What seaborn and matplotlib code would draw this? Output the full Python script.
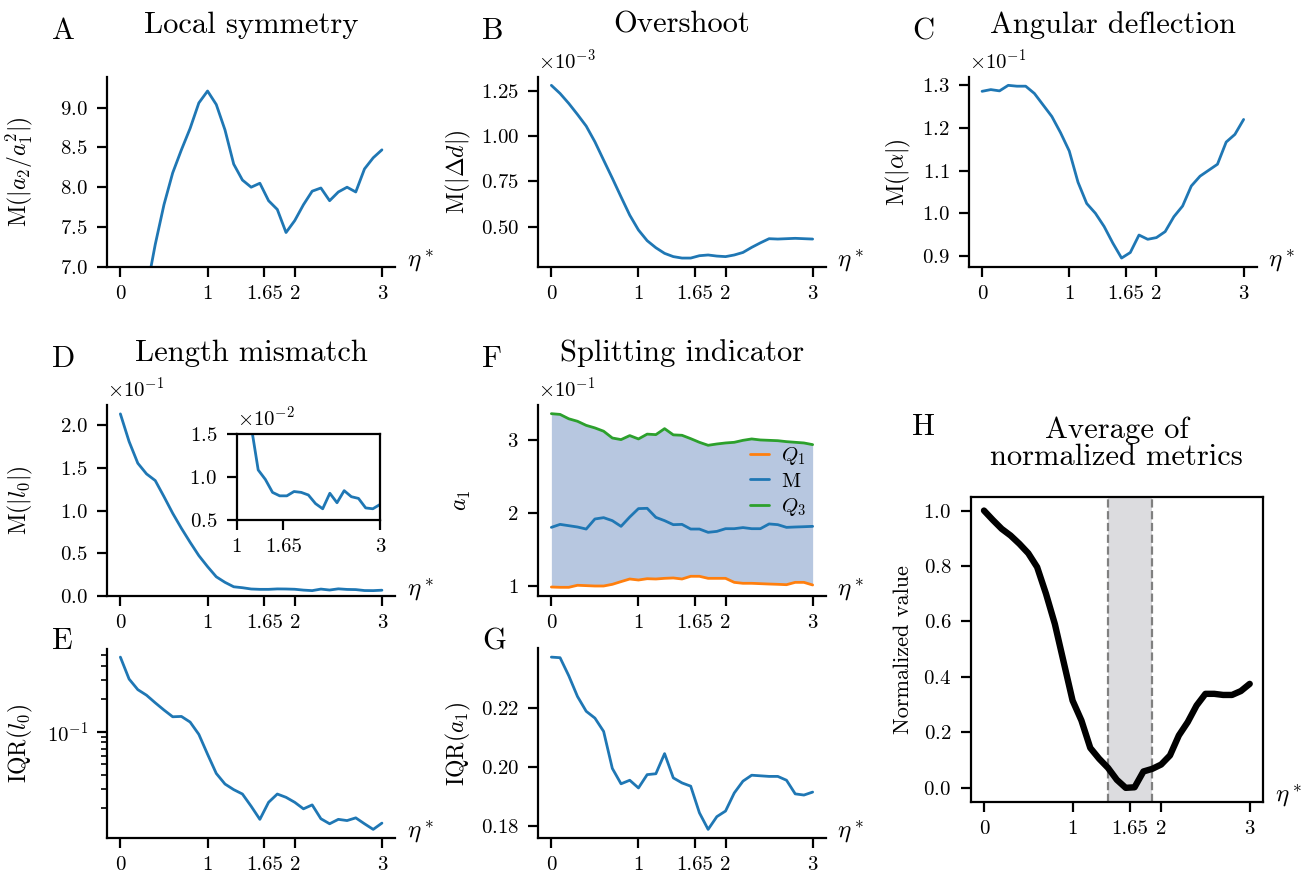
import numpy as np
import pandas as pd
import matplotlib
matplotlib.use("Agg")
import matplotlib.pyplot as plt
import seaborn as sns
from matplotlib.ticker import NullFormatter

# ---------------- data ----------------
eta = [0.0, 0.1, 0.2, 0.3, 0.4, 0.5, 0.6, 0.7, 0.8, 0.9, 1.0,
       1.1, 1.2, 1.3, 1.4, 1.5, 1.6, 1.7, 1.8, 1.9, 2.0,
       2.1, 2.2, 2.3, 2.4, 2.5, 2.6, 2.7, 2.8, 2.9, 3.0]

xtick_vals = [0, 1, 1.65, 2, 3]
xtick_labels = ["0", "1", "1.65", "2", "3"]

# A: local symmetry M(|a2/a1^2|)
sym_M = [5.5, 5.8, 6.2, 6.7, 7.28, 7.78, 8.18, 8.47, 8.74, 9.06, 9.21,
         9.04, 8.72, 8.29, 8.09, 8.00, 8.05, 7.83, 7.72, 7.43, 7.58,
         7.78, 7.95, 7.99, 7.83, 7.94, 8.00, 7.94, 8.23, 8.37, 8.47]

# B: overshoot M(|Δd|)
over_M = [1.281e-3, 1.236e-3, 1.181e-3, 1.120e-3, 1.056e-3, 0.969e-3, 0.868e-3,
          0.768e-3, 0.665e-3, 0.564e-3, 0.482e-3, 0.423e-3, 0.384e-3, 0.353e-3,
          0.335e-3, 0.327e-3, 0.327e-3, 0.340e-3, 0.344e-3, 0.338e-3, 0.335e-3,
          0.344e-3, 0.358e-3, 0.386e-3, 0.411e-3, 0.434e-3, 0.432e-3, 0.434e-3,
          0.436e-3, 0.434e-3, 0.432e-3]

# C: angular deflection M(|alpha|)
ang_M = [0.1286, 0.1290, 0.1287, 0.1300, 0.1298, 0.1298, 0.1281, 0.1254,
         0.1227, 0.1189, 0.1146, 0.1073, 0.1023, 0.1000, 0.0969, 0.0930,
         0.0895, 0.0908, 0.0949, 0.0939, 0.0943, 0.0957, 0.0992, 0.1017,
         0.1064, 0.1087, 0.1101, 0.1115, 0.1167, 0.1185, 0.1220]

# D: length mismatch M(|l0|)
len_M = [0.2133, 0.1809, 0.1555, 0.1430, 0.1352, 0.1164, 0.0969, 0.0793,
         0.0629, 0.0473, 0.0344, 0.0225, 0.0160, 0.0108, 0.0097, 0.0082,
         0.0078, 0.0078, 0.0083, 0.0082, 0.0079, 0.0069, 0.0063, 0.0081,
         0.0070, 0.0084, 0.0077, 0.0075, 0.0064, 0.0063, 0.0068]

# E: IQR(l0)
len_IQR = [0.483, 0.304, 0.243, 0.216, 0.184, 0.158, 0.137, 0.138, 0.1225,
           0.0945, 0.0621, 0.0414, 0.0331, 0.0294, 0.0268, 0.0207, 0.0157,
           0.0225, 0.0268, 0.0250, 0.0225, 0.0196, 0.0213, 0.0159, 0.0143,
           0.0157, 0.0153, 0.0162, 0.0143, 0.0127, 0.0145]

# F: splitting indicator a1 quartiles
a1_Q1 = [0.0986, 0.0982, 0.0982, 0.1010, 0.1005, 0.1000, 0.1000, 0.1023,
         0.1060, 0.1096, 0.1082, 0.1100, 0.1096, 0.1105, 0.1110, 0.1096,
         0.1133, 0.1133, 0.1105, 0.1105, 0.1105, 0.1050, 0.1037, 0.1037,
         0.1032, 0.1027, 0.1023, 0.1018, 0.1050, 0.1050, 0.1014]
a1_M = [0.1803, 0.1844, 0.1826, 0.1808, 0.1780, 0.1918, 0.1936, 0.1895,
        0.1817, 0.1945, 0.2060, 0.2064, 0.1940, 0.1895, 0.1840, 0.1844,
        0.1780, 0.1780, 0.1735, 0.1748, 0.1785, 0.1785, 0.1800, 0.1785,
        0.1785, 0.1850, 0.1840, 0.1803, 0.1808, 0.1812, 0.1817]
a1_Q3 = [0.3360, 0.3350, 0.3290, 0.3256, 0.3200, 0.3165, 0.3120, 0.3027,
         0.3005, 0.3060, 0.3014, 0.3080, 0.3073, 0.3155, 0.3070, 0.3064,
         0.3018, 0.2968, 0.2927, 0.2945, 0.2959, 0.2968, 0.2995, 0.3014,
         0.3000, 0.2995, 0.2990, 0.2977, 0.2968, 0.2959, 0.2936]

# G: IQR(a1)
a1_IQR = [0.2372, 0.2370, 0.2309, 0.2239, 0.2189, 0.2166, 0.2121, 0.1996,
          0.1944, 0.1956, 0.1930, 0.1975, 0.1978, 0.2046, 0.1964, 0.1947,
          0.1936, 0.1846, 0.1790, 0.1833, 0.1852, 0.1913, 0.1953, 0.1973,
          0.1971, 0.1969, 0.1969, 0.1956, 0.1910, 0.1906, 0.1916]

# H: average of normalized metrics
norm_avg = [1.000, 0.966, 0.934, 0.910, 0.880, 0.846, 0.796, 0.700, 0.591,
            0.453, 0.315, 0.243, 0.144, 0.105, 0.072, 0.029, 0.000, 0.002,
            0.059, 0.0685, 0.084, 0.117, 0.189, 0.237, 0.297, 0.339, 0.339,
            0.335, 0.335, 0.349, 0.375]
band_lo, band_hi = 1.4, 1.9

# ---------------- style ----------------
sns.set_theme(style="ticks", palette="tab10")
plt.rcParams.update({
    "font.family": ["serif"],
    "font.serif": ["cmr10", "DejaVu Serif"],
    "mathtext.fontset": "cm",
    "axes.formatter.use_mathtext": True,
    "axes.unicode_minus": False,
    "axes.edgecolor": "black",
    "axes.labelcolor": "black",
    "text.color": "black",
    "xtick.color": "black",
    "ytick.color": "black",
    "axes.linewidth": 0.8,
    "xtick.major.width": 0.8,
    "ytick.major.width": 0.8,
    "ytick.minor.width": 0.6,
    "xtick.major.size": 3.5,
    "ytick.major.size": 3.5,
    "ytick.minor.size": 2.0,
    "xtick.major.pad": 3.0,
    "xtick.labelsize": 7.5,
    "ytick.labelsize": 7.5,
    "axes.labelsize": 8.5,
    "lines.linewidth": 1.0,
})

W, H = 1304, 872
fig = plt.figure(figsize=(W / 200, H / 200), dpi=200)


def px_axes(left, right, top, bottom):
    return fig.add_axes([left / W, 1 - bottom / H, (right - left) / W, (bottom - top) / H])


axA = px_axes(107.3, 395.0, 76.7, 266.7)
axB = px_axes(538.3, 825.7, 76.7, 266.7)
axC = px_axes(969.0, 1256.7, 76.7, 266.7)
axD = px_axes(107.3, 395.0, 405.0, 596.0)
axF = px_axes(538.3, 825.7, 405.0, 596.0)
axE = px_axes(107.3, 395.0, 648.5, 838.0)
axG = px_axes(538.3, 825.7, 648.5, 838.0)
axH = px_axes(970.7, 1263.0, 496.7, 801.7)
axIn = px_axes(236.7, 380.0, 433.7, 520.0)

pal = sns.color_palette("tab10")
blue, orange, green = pal[0], pal[1], pal[2]


def eta_label(ax, x=1.04):
    ax.text(x, 0.0, r"$\eta^*$", transform=ax.transAxes, ha="left", va="baseline",
            fontsize=9)


def common(ax, ylabel, label_x):
    ax.set_xticks(xtick_vals)
    ax.set_xticklabels(xtick_labels)
    ax.set_ylabel(ylabel)
    ax.yaxis.set_label_coords(label_x, 0.5)
    ax.set_xlabel("")
    ax.yaxis.get_offset_text().set_fontsize(7.5)
    eta_label(ax)


# A
sns.lineplot(x=eta, y=sym_M, ax=axA, color=blue)
axA.set_ylim(7.0, 9.39)
axA.set_yticks([7.0, 7.5, 8.0, 8.5, 9.0])
common(axA, r"M$(|a_2/a_1^2|)$", -0.251)
axA.set_title("Local symmetry", fontsize=11, pad=15.8)

# B
sns.lineplot(x=eta, y=over_M, ax=axB, color=blue)
axB.set_yticks([0.5e-3, 0.75e-3, 1.0e-3, 1.25e-3])
axB.ticklabel_format(axis="y", style="sci", scilimits=(0, 0))
common(axB, r"M$(|\Delta d|)$", -0.227)
axB.set_title("Overshoot", fontsize=11, pad=15.8)

# C
sns.lineplot(x=eta, y=ang_M, ax=axC, color=blue)
axC.set_yticks([0.09, 0.10, 0.11, 0.12, 0.13])
axC.ticklabel_format(axis="y", style="sci", scilimits=(0, 0))
common(axC, r"M$(|\alpha|)$", -0.195)
axC.set_title("Angular deflection", fontsize=11, pad=15.8)

# D
sns.lineplot(x=eta, y=len_M, ax=axD, color=blue)
axD.set_ylim(0.0, 0.2237)
axD.set_yticks([0.0, 0.05, 0.10, 0.15, 0.20])
axD.ticklabel_format(axis="y", style="sci", scilimits=(0, 0))
common(axD, r"M$(|l_0|)$", -0.251)
axD.set_title("Length mismatch", fontsize=11, pad=15.8)

# D inset
sns.lineplot(x=eta, y=len_M, ax=axIn, color=blue)
axIn.set_xlim(1, 3)
axIn.set_ylim(0.005, 0.015)
axIn.set_xticks([1, 1.65, 3])
axIn.set_xticklabels(["1", "1.65", "3"])
axIn.set_yticks([0.005, 0.010, 0.015])
axIn.ticklabel_format(axis="y", style="sci", scilimits=(0, 0))
axIn.yaxis.get_offset_text().set_fontsize(7.5)
axIn.set_xlabel("")
axIn.set_ylabel("")

# E
sns.lineplot(x=eta, y=len_IQR, ax=axE, color=blue)
axE.set_yscale("log")
axE.yaxis.set_minor_formatter(NullFormatter())
common(axE, r"IQR$(l_0)$", -0.251)

# F
dfF = pd.DataFrame({
    "eta": eta * 3,
    "a1": a1_Q1 + a1_M + a1_Q3,
    "stat": [r"$Q_1$"] * len(eta) + ["M"] * len(eta) + [r"$Q_3$"] * len(eta),
})
axF.fill_between(eta, a1_Q1, a1_Q3, color="#b7c7e0", lw=0, zorder=0)
sns.lineplot(data=dfF, x="eta", y="a1", hue="stat",
             hue_order=[r"$Q_1$", "M", r"$Q_3$"],
             palette=[orange, blue, green], ax=axF)
axF.set_yticks([0.1, 0.2, 0.3])
axF.ticklabel_format(axis="y", style="sci", scilimits=(0, 0))
common(axF, r"$a_1$", -0.227)
axF.set_title("Splitting indicator", fontsize=11, pad=15.8)
axF.legend(loc="center left", bbox_to_anchor=(0.672, 0.60), frameon=False,
           fontsize=7.5, handlelength=0.9, handletextpad=0.6, labelspacing=0.25)

# G
sns.lineplot(x=eta, y=a1_IQR, ax=axG, color=blue)
axG.set_yticks([0.18, 0.20, 0.22])
common(axG, r"IQR$(a_1)$", -0.227)

# H
axH.axvspan(band_lo, band_hi, color="#dcdcdf", lw=0, zorder=0)
for xv in (band_lo, band_hi):
    axH.axvline(xv, color="gray", ls="--", lw=0.8, zorder=1)
sns.lineplot(x=eta, y=norm_avg, ax=axH, color="black", lw=2.3)
axH.set_yticks([0.0, 0.2, 0.4, 0.6, 0.8, 1.0])
common(axH, "Normalized value", -0.197)
axH.yaxis.label.set_fontsize(8)
axH.set_title("Average of\nnormalized metrics", fontsize=11, pad=11.4, linespacing=1.0)

for ax in (axA, axB, axC, axD, axE, axF, axG):
    sns.despine(ax=ax)

# panel letters
letters = [("A", 52, 39), ("B", 482, 39), ("C", 912, 39),
           ("D", 52, 367), ("F", 482, 367),
           ("E", 52, 649), ("G", 482, 649), ("H", 912, 435)]
for t, x, y in letters:
    fig.text(x / W, 1 - y / H, t, ha="left", va="baseline", fontsize=11)

fig.savefig("out.png", dpi=200)
